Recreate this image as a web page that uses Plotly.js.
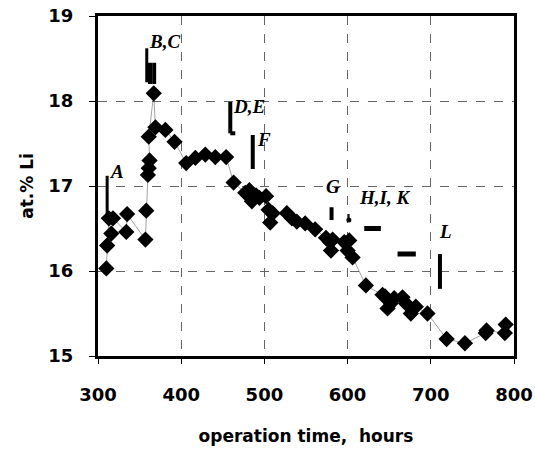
<!DOCTYPE html>
<html>
<head>
<meta charset="utf-8">
<script src="https://cdn.plot.ly/plotly-3.0.1.min.js"></script>
<style>html,body{margin:0;padding:0;background:#fff;}#chart{width:535px;height:452px;}</style>
</head>
<body>
<div id="chart"></div>
<script>
// Measured data: operation time (hours) vs at.% Li
const hours = [310, 311, 313, 316, 318, 334, 335, 357, 358, 360, 361, 362, 361, 367, 369, 381, 392, 406, 417, 429, 441, 454, 463, 477, 482, 485, 490, 494, 502, 505, 507, 510, 527, 533, 539, 549, 561, 574, 579, 580, 582, 596, 600, 602, 606, 622, 642, 645, 648, 652, 656, 666, 670, 676, 682, 696, 719, 741, 766, 767, 789, 790];
const liPct = [16.03, 16.30, 16.62, 16.44, 16.62, 16.46, 16.67, 16.37, 16.71, 17.13, 17.21, 17.30, 17.58, 18.09, 17.69, 17.66, 17.52, 17.27, 17.33, 17.37, 17.34, 17.34, 17.04, 16.92, 16.95, 16.82, 16.89, 16.86, 16.88, 16.72, 16.57, 16.68, 16.68, 16.62, 16.58, 16.56, 16.49, 16.39, 16.34, 16.24, 16.37, 16.34, 16.24, 16.36, 16.16, 15.83, 15.72, 15.70, 15.56, 15.62, 15.68, 15.69, 15.62, 15.50, 15.58, 15.50, 15.20, 15.15, 15.27, 15.30, 15.27, 15.37];

// Event markers (vertical/horizontal bars) : start & end points
const evX1 = [311, 358.6, 362.5, 367.5, 459, 459, 486, 580.7, 601.5, 620, 660, 711];
const evY1 = [17.12, 18.62, 18.45, 18.45, 17.99, 17.62, 17.60, 16.75, 16.67, 16.50, 16.20, 16.20];
const evX2 = [311, 358.6, 362.5, 367.5, 459, 465, 486, 580.7, 601.5, 640, 682, 711];
const evY2 = [16.62, 18.22, 18.20, 18.20, 17.62, 17.62, 17.20, 16.60, 16.60, 16.50, 16.20, 15.79];
const evW  = [3, 3, 4, 4, 4, 4, 4, 4, 1.5, 5, 5, 4];

// Event labels
const labText = ["A", "B,C", "D,E", "F", "G", "H,I, K", "L"];
const labX = [323, 380, 482, 500, 583, 644, 718];
const labY = [17.17, 18.70, 17.93, 17.55, 17.00, 16.87, 16.46];

const xTicks = [300, 400, 500, 600, 700, 800];
const yTicks = [15, 16, 17, 18, 19];

const traces = [];
traces.push({
  x: hours, y: liPct, type: 'scatter', mode: 'lines+markers',
  line: {color: '#444', width: 0.5},
  marker: {symbol: 'diamond', size: 12.5, color: '#000'},
  hoverinfo: 'skip', showlegend: false
});
for (let i = 0; i < evX1.length; i++) {
  traces.push({
    x: [evX1[i], evX2[i]], y: [evY1[i], evY2[i]], type: 'scatter', mode: 'lines',
    line: {color: '#000', width: evW[i]}, hoverinfo: 'skip', showlegend: false
  });
}
traces.push({
  x: [601.5], y: [16.60], type: 'scatter', mode: 'markers',
  marker: {symbol: 'circle', size: 5, color: '#000'}, hoverinfo: 'skip', showlegend: false
});

const annotations = labText.map((t, i) => ({
  x: labX[i], y: labY[i], xref: 'x', yref: 'y', text: t, showarrow: false,
  font: {family: 'Liberation Serif, Times New Roman, serif', size: 19, color: '#000', weight: 'bold', style: 'italic'}
}));

const tickFont = {family: 'DejaVu Sans, sans-serif', size: 18, color: '#000', weight: 'bold'};
const titleFont = {family: 'DejaVu Sans, sans-serif', size: 17, color: '#000', weight: 'bold'};
const layout = {
  width: 535, height: 452,
  margin: {l: 98, r: 21, t: 16, b: 96},
  paper_bgcolor: '#fff', plot_bgcolor: '#fff',
  showlegend: false,
  xaxis: {
    range: [300, 800], tickvals: xTicks, ticktext: xTicks.map(String),
    ticks: 'outside', ticklen: 5, tickwidth: 1, tickcolor: '#000',
    showline: true, linecolor: '#000', linewidth: 3, mirror: true,
    showgrid: true, gridcolor: '#666', griddash: 'dash', gridwidth: 1,
    zeroline: false, tickfont: tickFont, ticklabelstandoff: 15,
    title: {text: 'operation time,  hours', font: titleFont, standoff: 27}
  },
  yaxis: {
    range: [15, 19], tickvals: yTicks, ticktext: yTicks.map(String),
    ticks: 'outside', ticklen: 6, tickwidth: 1, tickcolor: '#000',
    showline: true, linecolor: '#000', linewidth: 3, mirror: true,
    showgrid: true, gridcolor: '#666', griddash: 'dash', gridwidth: 1,
    zeroline: false, tickfont: tickFont, ticklabelstandoff: 12,
    title: {text: 'at.% Li', font: titleFont, standoff: 11}
  },
  annotations: annotations
};
Plotly.newPlot('chart', traces, layout, {staticPlot: true, displayModeBar: false});
</script>
</body>
</html>
